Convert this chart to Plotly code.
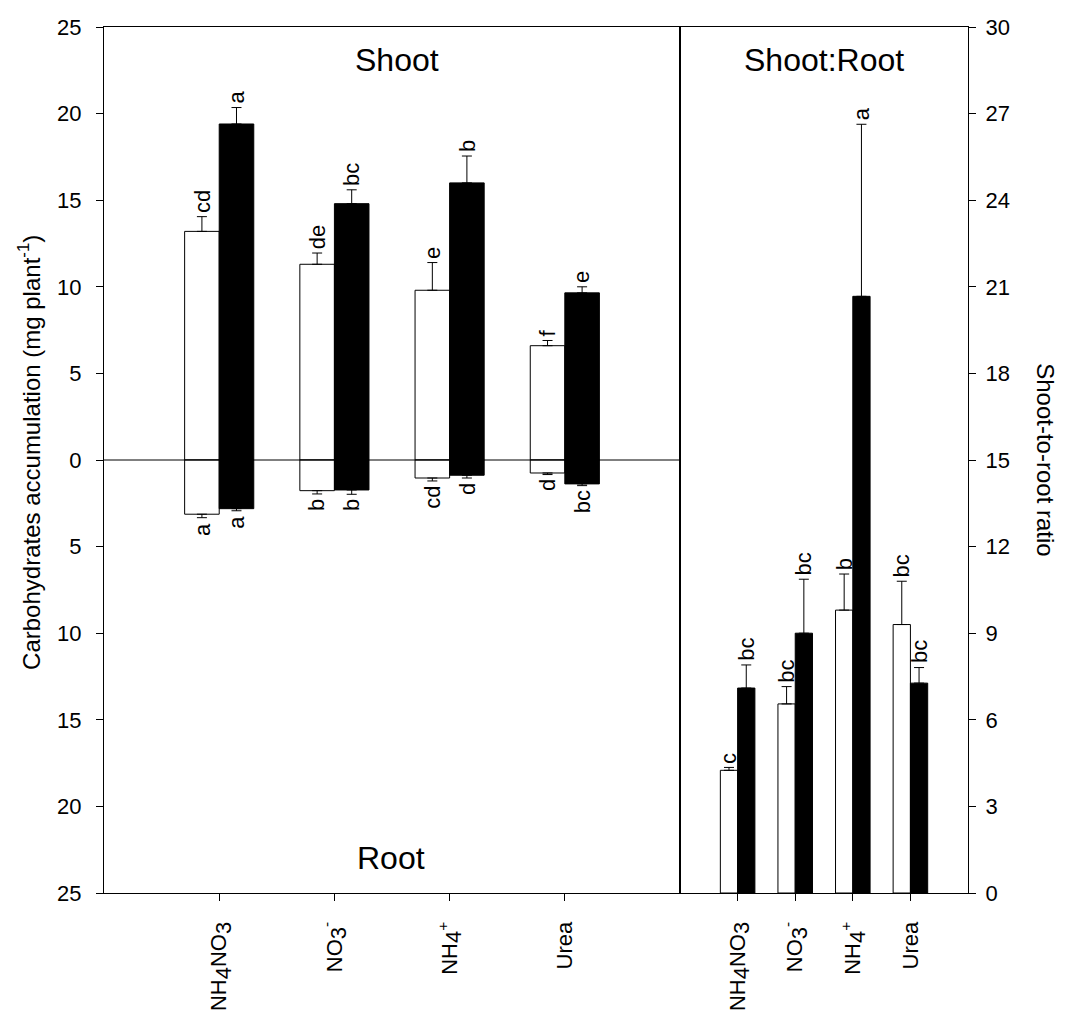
import plotly.graph_objects as go

categories = ["NH4NO3", "NO3-", "NH4+", "Urea"]
tick_labels = ['NH<sub><span style="font-size:22px">4</span></sub>NO<sub><span style="font-size:22px">3</span></sub>',
               'NO<sub><span style="font-size:22px">3</span></sub><sup>-</sup>',
               'NH<sub><span style="font-size:22px">4</span></sub><sup>+</sup>',
               "Urea"]

shoot_white = [13.2, 11.3, 9.8, 6.6]
shoot_white_err = [0.85, 0.65, 1.6, 0.3]
shoot_black = [19.4, 14.8, 16.0, 9.65]
shoot_black_err = [0.95, 0.8, 1.55, 0.35]

root_white = [3.13, 1.77, 1.04, 0.75]
root_white_err = [0.2, 0.19, 0.17, 0.09]
root_black = [2.81, 1.73, 0.88, 1.38]
root_black_err = [0.12, 0.25, 0.16, 0.1]

ratio_white = [4.25, 6.55, 9.8, 9.3]
ratio_white_err = [0.1, 0.6, 1.25, 1.5]
ratio_black = [7.1, 9.0, 20.67, 7.27]
ratio_black_err = [0.8, 1.87, 5.96, 0.54]

shoot_white_letters = ["cd", "de", "e", "f"]
shoot_black_letters = ["a", "bc", "b", "e"]
root_white_letters = ["a", "b", "cd", "d"]
root_black_letters = ["a", "b", "d", "bc"]
ratio_white_letters = ["c", "bc", "b", "bc"]
ratio_black_letters = ["bc", "bc", "a", "bc"]

left_ticks = [-25, -20, -15, -10, -5, 0, 5, 10, 15, 20, 25]
right_ticks = [0, 3, 6, 9, 12, 15, 18, 21, 24, 27, 30]

FONT = "Arial, Liberation Sans, sans-serif"
WHITE = dict(color="white", line=dict(color="black", width=1))
BLACK = dict(color="black", line=dict(color="black", width=1))


def eb(err, up=True):
    if up:
        return dict(type="data", symmetric=False, array=err, arrayminus=[0] * len(err),
                    color="black", thickness=1, width=5)
    return dict(type="data", symmetric=False, array=[0] * len(err), arrayminus=err,
                color="black", thickness=1, width=5)


fig = go.Figure()
fig.add_trace(go.Bar(x=categories, y=shoot_white, marker=WHITE, offsetgroup="w",
                     error_y=eb(shoot_white_err), xaxis="x", yaxis="y"))
fig.add_trace(go.Bar(x=categories, y=shoot_black, marker=BLACK, offsetgroup="b",
                     error_y=eb(shoot_black_err), xaxis="x", yaxis="y"))
fig.add_trace(go.Bar(x=categories, y=[-v for v in root_white], marker=WHITE, offsetgroup="w",
                     error_y=eb(root_white_err, up=False), xaxis="x", yaxis="y"))
fig.add_trace(go.Bar(x=categories, y=[-v for v in root_black], marker=BLACK, offsetgroup="b",
                     error_y=eb(root_black_err, up=False), xaxis="x", yaxis="y"))
fig.add_trace(go.Bar(x=categories, y=ratio_white, marker=WHITE, offsetgroup="w",
                     error_y=eb(ratio_white_err), xaxis="x2", yaxis="y2"))
fig.add_trace(go.Bar(x=categories, y=ratio_black, marker=BLACK, offsetgroup="b",
                     error_y=eb(ratio_black_err), xaxis="x2", yaxis="y2"))

ann = []
LF = dict(family=FONT, size=22, color="black")


def add_letters(vals, errs, letters, offset, xref, yref, up=True, sign=1):
    for i, (v, e, t) in enumerate(zip(vals, errs, letters)):
        if up:
            ann.append(dict(x=i + offset, y=sign * v + e, xref=xref, yref=yref, text=t,
                            showarrow=False, textangle=-90, yanchor="bottom",
                            xanchor="center", font=LF, yshift=2))
        else:
            ann.append(dict(x=i + offset, y=sign * v - e, xref=xref, yref=yref, text=t,
                            showarrow=False, textangle=-90, yanchor="top",
                            xanchor="center", font=LF, yshift=-3))


add_letters(shoot_white, shoot_white_err, shoot_white_letters, -0.15, "x", "y")
add_letters(shoot_black, shoot_black_err, shoot_black_letters, 0.15, "x", "y")
add_letters(root_white, root_white_err, root_white_letters, -0.15, "x", "y", up=False, sign=-1)
add_letters(root_black, root_black_err, root_black_letters, 0.15, "x", "y", up=False, sign=-1)
add_letters(ratio_white, ratio_white_err, ratio_white_letters, -0.15, "x2", "y2")
add_letters(ratio_black, ratio_black_err, ratio_black_letters, 0.15, "x2", "y2")

BIG = dict(family=FONT, size=32, color="black")
ann.append(dict(x=0.339, y=0.962, xref="paper", yref="paper", text="Shoot",
                showarrow=False, font=BIG, xanchor="center", yanchor="middle"))
ann.append(dict(x=0.332, y=0.04, xref="paper", yref="paper", text="Root",
                showarrow=False, font=BIG, xanchor="center", yanchor="middle"))
ann.append(dict(x=0.8333, y=0.962, xref="paper", yref="paper", text="Shoot:Root",
                showarrow=False, font=BIG, xanchor="center", yanchor="middle"))
TF = dict(family=FONT, size=24, color="black")
ann.append(dict(x=-0.086, y=0.509, xref="paper", yref="paper",
                text="Carbohydrates accumulation (mg plant<sup>-1</sup>)",
                showarrow=False, font=TF, textangle=-90, xanchor="center", yanchor="middle"))
ann.append(dict(x=1.09, y=0.5, xref="paper", yref="paper", text="Shoot-to-root ratio",
                showarrow=False, font=TF, textangle=90, xanchor="center", yanchor="middle"))

axis_common = dict(showline=True, linecolor="black", linewidth=1, mirror=True,
                   ticks="outside", ticklen=7, tickwidth=1, tickcolor="black",
                   showgrid=False, zeroline=False, automargin=False,
                   tickfont=dict(family=FONT, size=22, color="black"))

fig.update_layout(
    width=1057, height=1008,
    margin=dict(l=96, r=97, t=19, b=123, autoexpand=False),
    paper_bgcolor="white", plot_bgcolor="white",
    barmode="group", bargap=0.4, bargroupgap=0,
    showlegend=False,
    annotations=ann,
    xaxis=dict(domain=[0, 0.6667], range=[-1, 4], type="category", tickangle=-90,
               tickvals=categories, ticktext=tick_labels, ticklabelstandoff=12,
               anchor="y", **axis_common),
    yaxis=dict(domain=[0, 1], range=[-25, 25], tickvals=left_ticks,
               ticktext=[str(abs(v)) for v in left_ticks], ticklabelstandoff=10,
               anchor="x", **axis_common),
    xaxis2=dict(domain=[0.6667, 1], range=[-1, 4], type="category", tickangle=-90,
                tickvals=categories, ticktext=tick_labels, ticklabelstandoff=12,
                anchor="y2", **axis_common),
    yaxis2=dict(domain=[0, 1], range=[0, 30], tickvals=right_ticks, side="right",
                ticklabelstandoff=5, anchor="x2", **axis_common),
    shapes=[dict(type="line", xref="x domain", yref="y", x0=0, x1=1, y0=0, y1=0,
                 line=dict(color="black", width=1), layer="above")],
)

fig.write_html("out.html")
